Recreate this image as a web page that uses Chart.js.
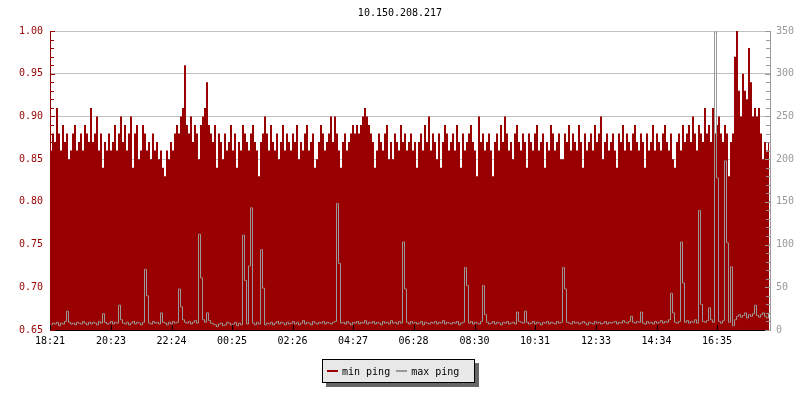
<!DOCTYPE html>
<html>
<head>
<meta charset="utf-8">
<script src="https://cdn.jsdelivr.net/npm/chart.js@4/dist/chart.umd.min.js"></script>
<style>
    body { margin: 0; background: #fff; }
    #wrap { position: relative; width: 800px; height: 400px; }
    #legend {
        position: absolute; left: 322px; top: 359px; width: 153px; height: 24px;
        box-sizing: border-box; border: 1px solid #000; background: #e8e8e8;
        box-shadow: 4px 4px 0 #666;
        font: 10px 'DejaVu Sans Mono', monospace; color: #000;
        display: flex; align-items: center; padding-left: 4px;
    }
    #legend .item { display: flex; align-items: center; margin-right: 6px; }
    #legend .swatch { width: 11px; height: 2px; margin-right: 4px; }
</style>
</head>
<body>
<div id="wrap">
    <canvas id="pingChart" width="800" height="400"></canvas>
    <div id="legend"></div>
</div>
<script>
// ==================== DATA ====================
const chartTitle = '10.150.208.217';
const startTime = '18:21';
const sampleMinutes = 4;   // one sample every 4 minutes, 24h window

const xTickLabels = ['18:21', '20:23', '22:24', '00:25', '02:26', '04:27',
                     '06:28', '08:30', '10:31', '12:33', '14:34', '16:35'];
const leftTicks = [0.65, 0.70, 0.75, 0.80, 0.85, 0.90, 0.95, 1.00];
const rightTicks = [0, 50, 100, 150, 200, 250, 300, 350];

// min ping (left axis)
const minPing = [
    0.86, 0.88, 0.87, 0.91, 0.88, 0.86, 0.89, 0.87, 0.88, 0.85, 0.86, 0.88, 0.89, 0.86, 0.87, 0.88, 0.86, 0.89, 0.88, 0.87,
    0.91, 0.87, 0.88, 0.90, 0.86, 0.88, 0.84, 0.87, 0.86, 0.88, 0.86, 0.87, 0.89, 0.86, 0.88, 0.90, 0.87, 0.89, 0.86, 0.88,
    0.90, 0.84, 0.88, 0.89, 0.85, 0.86, 0.89, 0.88, 0.86, 0.87, 0.85, 0.88, 0.86, 0.87, 0.85, 0.86, 0.84, 0.83, 0.86, 0.85,
    0.87, 0.86, 0.88, 0.89, 0.88, 0.90, 0.91, 0.96, 0.89, 0.88, 0.90, 0.87, 0.89, 0.88, 0.85, 0.89, 0.90, 0.91, 0.94, 0.89,
    0.88, 0.87, 0.89, 0.84, 0.88, 0.87, 0.85, 0.88, 0.86, 0.87, 0.89, 0.86, 0.88, 0.84, 0.87, 0.86, 0.89, 0.88, 0.87, 0.86,
    0.88, 0.89, 0.87, 0.86, 0.83, 0.87, 0.88, 0.90, 0.88, 0.86, 0.89, 0.87, 0.86, 0.88, 0.85, 0.87, 0.89, 0.86, 0.88, 0.87,
    0.86, 0.88, 0.87, 0.89, 0.85, 0.87, 0.86, 0.88, 0.89, 0.86, 0.87, 0.88, 0.84, 0.85, 0.87, 0.89, 0.88, 0.86, 0.87, 0.88,
    0.90, 0.87, 0.90, 0.88, 0.86, 0.84, 0.87, 0.88, 0.86, 0.87, 0.88, 0.89, 0.88, 0.89, 0.88, 0.89, 0.90, 0.91, 0.90, 0.89,
    0.88, 0.87, 0.84, 0.86, 0.88, 0.87, 0.86, 0.88, 0.89, 0.85, 0.87, 0.85, 0.88, 0.87, 0.86, 0.89, 0.87, 0.88, 0.86, 0.87,
    0.88, 0.86, 0.87, 0.84, 0.87, 0.88, 0.86, 0.89, 0.87, 0.90, 0.86, 0.88, 0.87, 0.85, 0.88, 0.84, 0.87, 0.89, 0.88, 0.86,
    0.87, 0.88, 0.86, 0.89, 0.87, 0.84, 0.88, 0.86, 0.87, 0.88, 0.89, 0.87, 0.86, 0.83, 0.90, 0.87, 0.88, 0.86, 0.87, 0.88,
    0.86, 0.83, 0.87, 0.88, 0.86, 0.89, 0.87, 0.90, 0.88, 0.86, 0.87, 0.85, 0.88, 0.89, 0.87, 0.86, 0.88, 0.87, 0.84, 0.88,
    0.87, 0.86, 0.88, 0.89, 0.86, 0.87, 0.88, 0.84, 0.87, 0.86, 0.89, 0.88, 0.86, 0.87, 0.88, 0.85, 0.85, 0.88, 0.87, 0.89,
    0.86, 0.88, 0.87, 0.86, 0.89, 0.87, 0.84, 0.88, 0.86, 0.87, 0.88, 0.86, 0.89, 0.87, 0.88, 0.90, 0.85, 0.87, 0.88, 0.86,
    0.87, 0.88, 0.86, 0.84, 0.88, 0.87, 0.89, 0.86, 0.88, 0.87, 0.86, 0.88, 0.89, 0.87, 0.86, 0.88, 0.87, 0.84, 0.88, 0.86,
    0.87, 0.89, 0.86, 0.88, 0.87, 0.86, 0.88, 0.89, 0.87, 0.86, 0.88, 0.85, 0.84, 0.87, 0.88, 0.86, 0.89, 0.87, 0.88, 0.89,
    0.87, 0.90, 0.88, 0.86, 0.89, 0.88, 0.87, 0.91, 0.88, 0.89, 0.87, 0.91, 0.88, 0.89, 0.90, 0.88, 0.87, 0.89, 0.88, 0.83,
    0.87, 0.88, 0.97, 1.00, 0.93, 0.90, 0.95, 0.93, 0.92, 0.98, 0.94, 0.90, 0.91, 0.90, 0.91, 0.88, 0.85, 0.87, 0.86, 0.87
];

// max ping (right axis)
const maxPing = [
    6, 8, 7, 9, 5, 8, 7, 10, 22, 9, 7, 8, 6, 9, 8, 7, 10, 8, 6, 9,
    7, 9, 8, 6, 10, 8, 19, 9, 7, 8, 10, 7, 9, 8, 29, 12, 8, 7, 9, 6,
    8, 10, 7, 9, 8, 6, 9, 71, 40, 8, 7, 10, 8, 9, 7, 20, 9, 8, 6, 9,
    7, 10, 8, 9, 48, 27, 12, 9, 8, 10, 7, 9, 11, 8, 112, 61, 12, 9, 20, 11,
    8, 7, 6, 4, 7, 8, 5, 6, 9, 8, 6, 7, 9, 5, 8, 6, 111, 58, 7, 75,
    143, 8, 6, 9, 7, 94, 49, 6, 8, 7, 9, 6, 8, 10, 7, 9, 8, 6, 9, 7,
    8, 10, 7, 9, 6, 8, 11, 7, 9, 8, 6, 10, 8, 7, 9, 8, 10, 7, 9, 8,
    7, 9, 10, 148, 78, 8, 9, 7, 10, 8, 6, 9, 8, 10, 7, 9, 8, 11, 7, 9,
    8, 10, 7, 9, 8, 6, 10, 8, 9, 7, 11, 8, 9, 7, 10, 8, 103, 48, 9, 7,
    10, 8, 9, 7, 8, 10, 6, 9, 8, 7, 9, 8, 10, 7, 9, 8, 11, 7, 9, 8,
    7, 9, 8, 10, 6, 8, 9, 73, 52, 8, 10, 7, 9, 8, 7, 10, 52, 18, 9, 7,
    8, 10, 7, 9, 8, 6, 9, 8, 10, 7, 8, 9, 7, 21, 10, 9, 8, 22, 9, 7,
    8, 10, 7, 9, 8, 6, 9, 8, 10, 7, 9, 8, 7, 10, 8, 9, 73, 48, 9, 8,
    7, 10, 8, 9, 7, 8, 10, 8, 6, 9, 8, 7, 10, 8, 9, 7, 8, 10, 7, 9,
    8, 9, 10, 7, 9, 8, 11, 9, 8, 10, 16, 9, 8, 10, 9, 21, 8, 7, 10, 8,
    9, 7, 10, 8, 9, 11, 8, 10, 9, 12, 43, 20, 9, 8, 10, 103, 55, 9, 11, 8,
    10, 9, 12, 8, 140, 30, 10, 9, 11, 26, 12, 9, 349, 178, 10, 8, 11, 198, 102, 9,
    74, 5, 12, 16, 18, 15, 17, 20, 14, 18, 16, 19, 29, 17, 15, 18, 20, 16, 14, 19
];

// ==================== HELPERS ====================
const RED = '#990000';
const GRAY = '#999999';
const FONT = "'DejaVu Sans Mono', monospace";

const toMinutes = (t) => {
    const [h, m] = t.split(':').map(Number);
    return h * 60 + m;
};

// minutes since the window start, wrapping past midnight
const minutesFromStart = (t) => {
    let d = toMinutes(t) - toMinutes(startTime);
    if (d < 0) d += 1440;
    return d;
};

const toPoints = (values) => values.map((v, i) => ({ x: i * sampleMinutes + sampleMinutes / 2, y: v }));

// ==================== CRISP 1PX STEPS FOR THE GRAY LINE ====================
const crispLine = {
    id: 'crispLine',
    beforeDatasetDraw(chart, args) {
        if (args.meta.dataset && args.meta.yAxisID === 'y2') {
            chart.ctx.save();
            chart.ctx.translate(0.5, 0);
        }
    },
    afterDatasetDraw(chart, args) {
        if (args.meta.dataset && args.meta.yAxisID === 'y2') chart.ctx.restore();
    }
};

// ==================== SMALL TICK MARKS (drawn over the data) ====================
const axisTicks = {
    id: 'axisTicks',
    afterDatasetsDraw(chart) {
        const { ctx, chartArea: a, scales: { x, y, y2 } } = chart;
        ctx.save();
        ctx.lineWidth = 1;

        // left axis, every 0.01
        ctx.strokeStyle = RED;
        for (let k = 65; k <= 100; k++) {
            const py = Math.round(y.getPixelForValue(k / 100)) + 0.5;
            const len = k % 5 === 0 ? 5 : 4;
            ctx.beginPath();
            ctx.moveTo(a.left, py);
            ctx.lineTo(a.left + len, py);
            ctx.stroke();
        }

        // right axis, every 10
        ctx.strokeStyle = GRAY;
        for (let v = 0; v <= 350; v += 10) {
            const py = Math.round(y2.getPixelForValue(v)) + 0.5;
            const len = v % 50 === 0 ? 5 : 4;
            ctx.beginPath();
            ctx.moveTo(a.right, py);
            ctx.lineTo(a.right - len, py);
            ctx.stroke();
        }

        // bottom axis
        ctx.strokeStyle = '#000';
        x.ticks.forEach(t => {
            const px = Math.round(x.getPixelForValue(t.value)) + 0.5;
            ctx.beginPath();
            ctx.moveTo(px, a.bottom);
            ctx.lineTo(px, a.bottom - 5);
            ctx.stroke();
        });
        ctx.restore();
    }
};

// ==================== CHART ====================
Chart.defaults.font.family = FONT;
Chart.defaults.font.size = 10;

const ctx = document.getElementById('pingChart').getContext('2d');
const pingChart = new Chart(ctx, {
    type: 'line',
    data: {
        datasets: [
            {
                label: 'min ping',
                data: toPoints(minPing),
                yAxisID: 'y',
                borderColor: RED,
                backgroundColor: RED,
                borderWidth: 0,
                fill: 'start',
                stepped: 'middle',
                pointRadius: 0,
                order: 2
            },
            {
                label: 'max ping',
                data: toPoints(maxPing),
                yAxisID: 'y2',
                borderColor: GRAY,
                borderWidth: 1,
                fill: false,
                stepped: 'middle',
                pointRadius: 0,
                order: 1
            }
        ]
    },
    options: {
        responsive: false,
        animation: false,
        layout: { padding: 0 },
        plugins: {
            legend: { display: false },
            tooltip: { enabled: false },
            title: {
                display: true,
                text: chartTitle,
                color: '#000',
                font: { family: FONT, size: 10, weight: 'normal' },
                padding: { top: 7, bottom: 12 }
            }
        },
        scales: {
            x: {
                type: 'linear',
                min: 0,
                max: 1440,
                afterBuildTicks: (s) => { s.ticks = xTickLabels.map(t => ({ value: minutesFromStart(t) })); },
                afterFit: (s) => { s.height = 70; },
                ticks: {
                    autoSkip: false,
                    maxRotation: 0,
                    padding: 5,
                    color: '#000',
                    callback: (v, i) => xTickLabels[i]
                },
                grid: { drawOnChartArea: false, drawTicks: false },
                border: { color: '#000' }
            },
            y: {
                type: 'linear',
                position: 'left',
                min: 0.65,
                max: 1.00,
                afterBuildTicks: (s) => { s.ticks = leftTicks.map(v => ({ value: v })); },
                afterFit: (s) => { s.width = 50; },
                ticks: { color: RED, padding: 7, callback: (v) => v.toFixed(2) },
                grid: { color: '#c0c0c0', drawTicks: false },
                border: { color: RED }
            },
            y2: {
                type: 'linear',
                position: 'right',
                min: 0,
                max: 350,
                afterBuildTicks: (s) => { s.ticks = rightTicks.map(v => ({ value: v })); },
                afterFit: (s) => { s.width = 30; },
                ticks: { color: GRAY, padding: 6 },
                grid: { drawOnChartArea: false, drawTicks: false },
                border: { color: GRAY }
            }
        }
    },
    plugins: [crispLine, axisTicks]
});

// ==================== HTML LEGEND ====================
const legendEl = document.getElementById('legend');
pingChart.data.datasets.forEach(ds => {
    const item = document.createElement('span');
    item.className = 'item';
    item.innerHTML = `<span class="swatch" style="background:${ds.borderColor}"></span>${ds.label}`;
    legendEl.appendChild(item);
});
</script>
</body>
</html>
